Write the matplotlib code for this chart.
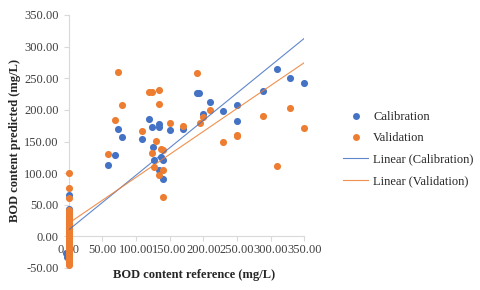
import matplotlib.pyplot as plt
import numpy as np
from matplotlib.lines import Line2D

# Calibration set: reference vs predicted BOD (mg/L)
cal_ref = [0, 0, 0, 0, 0, 0, 0, 0, 0, 0, 0, -3, -2,
           59, 69, 74, 79, 109, 119, 124, 134, 134, 126, 127, 137, 140, 134, 140,
           150, 170, 191, 194, 199, 210, 229, 250, 250, 289, 309, 329, 350]
cal_pred = [65, 44, 38, 33, 28, 24, 20, 15, 12, 8, 5, -27, -33,
            113, 128, 170, 157, 154, 186, 173, 177, 173, 141, 120, 125, 120, 105, 91,
            168, 170, 226, 227, 193, 213, 198, 208, 182, 230, 264, 250, 243]

# Validation set
val_ref = [0] * 33 + [59, 69, 74, 79, 109, 119, 124, 134, 134, 130, 137, 140, 124, 127,
                      140, 134, 140, 150, 170, 190, 195, 200, 210, 229, 250, 250, 289,
                      309, 329, 350]
val_pred = [100, 76, 61, 42, 39, 36, 33, 30, 27, 24, 21, 18, 15, 12, 9, 6, 3, 0,
            -3, -6, -9, -12, -15, -18, -21, -24, -27, -30, -33, -36, -39, -42, -45,
            131, 184, 260, 207, 166, 229, 228, 231, 210, 151, 138, 137, 132, 110,
            105, 97, 63, 180, 175, 259, 180, 189, 200, 150, 161, 158, 190,
            111, 203, 172]

# linear trendlines (slope, intercept) as shown on the chart
cal_trend = (0.866, 10.0)
val_trend = (0.726, 20.6)

BLUE = "#4472C4"
ORANGE = "#ED7D31"
GRAY = "#D9D9D9"
TXT = "#404040"

plt.rcParams["font.family"] = ["Liberation Serif", "DejaVu Serif"]

fig = plt.figure(figsize=(4.8, 2.9), dpi=100)
ax = fig.add_axes([68.5 / 480, 1 - 268 / 290, (304.3 - 68.5) / 480, (268 - 15) / 290])

# markers sit above the axis lines but under the tick labels
ax.scatter(cal_ref, cal_pred, s=26, color=BLUE, linewidths=0, clip_on=False, zorder=2)
ax.scatter(val_ref, val_pred, s=26, color=ORANGE, linewidths=0, clip_on=False, zorder=2)

xs = np.array([0, 350])
ax.plot(xs, cal_trend[0] * xs + cal_trend[1], color=BLUE, lw=0.8, alpha=0.85, zorder=2.2)
ax.plot(xs, val_trend[0] * xs + val_trend[1], color=ORANGE, lw=0.8, alpha=0.85, zorder=2.2)

ax.set_xlim(0, 350)
ax.set_ylim(-50, 350)
ax.set_xticks(np.arange(0, 351, 50))
ax.set_yticks(np.arange(-50, 351, 50))
ax.xaxis.set_major_formatter(lambda v, p: f"{v:.2f}")
ax.yaxis.set_major_formatter(lambda v, p: f"{v:.2f}")

for side in ["top", "right"]:
    ax.spines[side].set_visible(False)
ax.spines["left"].set_position(("data", 0))
ax.spines["bottom"].set_position(("data", 0))
for side in ["left", "bottom"]:
    ax.spines[side].set_color(GRAY)
    ax.spines[side].set_linewidth(0.8)
    ax.spines[side].set_zorder(1.5)
ax.tick_params(axis="both", colors=GRAY, labelcolor=TXT, labelsize=9, length=3.5, width=0.8)
ax.tick_params(axis="x", pad=2)
ax.set_facecolor("none")

fig.text(194 / 480, 1 - 275 / 290, "BOD content reference (mg/L)", ha="center", va="center",
         fontsize=9, fontweight="bold", color="#262626")
fig.text(15 / 480, 1 - 140 / 290, "BOD content predicted (mg/L)", ha="center", va="center",
         rotation=90, fontsize=9, fontweight="bold", color="#262626")

handles = [
    Line2D([], [], ls="none", marker="o", ms=5, color=BLUE, mec="none"),
    Line2D([], [], ls="none", marker="o", ms=5, color=ORANGE, mec="none"),
    Line2D([], [], color=BLUE, lw=0.8, alpha=0.85),
    Line2D([], [], color=ORANGE, lw=0.8, alpha=0.85),
]
labels = ["Calibration", "Validation", "Linear (Calibration)", "Linear (Validation)"]
fig.legend(handles, labels, loc="upper left", bbox_to_anchor=(343 / 480, 1 - 111 / 290),
           frameon=False, borderpad=0, borderaxespad=0, fontsize=9, handlelength=2.0,
           handletextpad=0.4, labelspacing=0.75, labelcolor="#262626")

fig.savefig("out.png", dpi=100)
